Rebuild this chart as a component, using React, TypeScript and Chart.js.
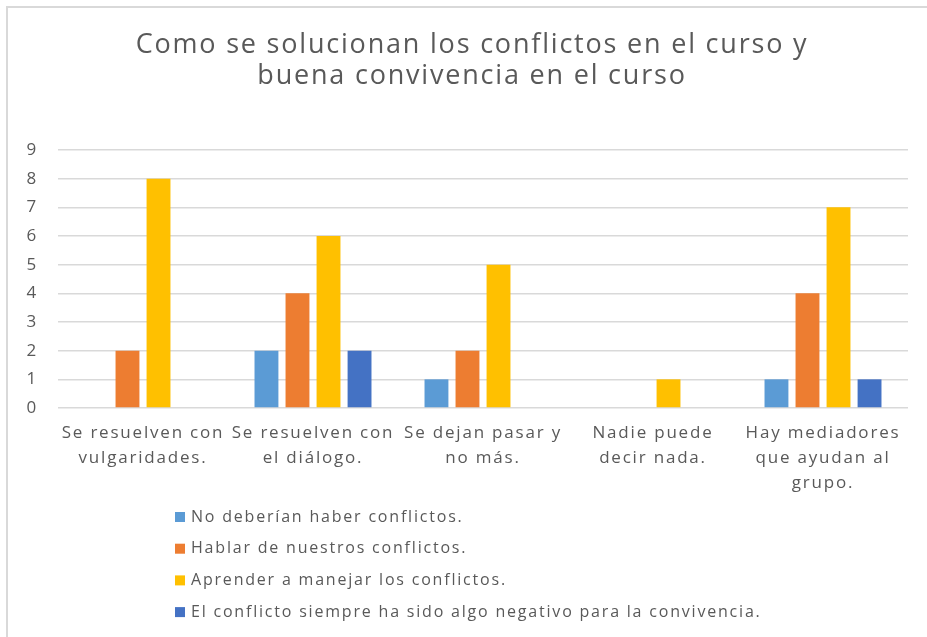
import React, { useEffect, useRef } from 'react';
import { Chart, registerables } from 'chart.js';

Chart.register(...registerables);

const titleLines = ['Como se solucionan los conflictos en el curso y', 'buena convivencia en el curso'];
const categories = [
  ['Se resuelven con', 'vulgaridades.'],
  ['Se resuelven con', 'el diálogo.'],
  ['Se dejan pasar y', 'no más.'],
  ['Nadie puede', 'decir nada.'],
  ['Hay mediadores', 'que ayudan al', 'grupo.'],
];
const seriesNames = [
  'No deberían haber conflictos.',
  'Hablar de nuestros conflictos.',
  'Aprender a manejar los conflictos.',
  'El conflicto siempre ha sido algo negativo para la convivencia.',
];
const noDeberian = [0, 2, 1, 0, 1];
const hablar = [2, 4, 2, 0, 4];
const aprender = [8, 6, 5, 1, 7];
const negativo = [0, 2, 0, 0, 1];
const seriesColors = ['#5B9BD5', '#ED7D31', '#FFC000', '#4472C4'];
const yMax = 9;

const FONT = "'Open Sans', sans-serif";
const TEXT = '#595959';
const SPACING = '1.8px';

const framePlugin = {
  id: 'frame',
  beforeUpdate(chart: any) {
    chart.ctx.letterSpacing = SPACING;
  },
  beforeLayout(chart: any) {
    chart.ctx.letterSpacing = SPACING;
  },
  afterLayout(chart: any) {
    // centre the title over the framed area like the original
    if (chart.titleBlock) chart.titleBlock.left = 36;
  },
  beforeDraw(chart: any) {
    const ctx = chart.ctx;
    ctx.letterSpacing = SPACING;
    ctx.save();
    ctx.fillStyle = '#ffffff';
    ctx.fillRect(0, 0, chart.width, chart.height);
    ctx.strokeStyle = '#d9d9d9';
    ctx.lineWidth = 2;
    ctx.beginPath();
    ctx.moveTo(7, chart.height);
    ctx.lineTo(7, 7);
    ctx.lineTo(chart.width, 7);
    ctx.stroke();
    ctx.restore();
  },
};

const listLegendPlugin = {
  id: 'listLegend',
  afterDraw(chart: any) {
    const ctx = chart.ctx;
    ctx.save();
    ctx.letterSpacing = SPACING;
    ctx.font = `16px ${FONT}`;
    ctx.textBaseline = 'middle';
    ctx.textAlign = 'left';
    chart.data.datasets.forEach((ds: any, i: number) => {
      const y = 517 + i * 31.7;
      ctx.fillStyle = ds.backgroundColor;
      ctx.fillRect(175, y - 5, 10, 10);
      ctx.fillStyle = TEXT;
      ctx.fillText(ds.label, 191, y);
    });
    ctx.restore();
  },
};

export default function App() {
  const ref = useRef<HTMLCanvasElement>(null);
  useEffect(() => {
    if (!ref.current) return;
    const values = [noDeberian, hablar, aprender, negativo];
    const chart = new Chart(ref.current, {
      type: 'bar',
      data: {
        labels: categories,
        datasets: values.map((v, i) => ({
          label: seriesNames[i],
          data: v,
          backgroundColor: seriesColors[i],
          borderWidth: 0,
          categoryPercentage: 0.73,
          barPercentage: 0.77,
        })),
      },
      options: {
        animation: false,
        responsive: false,
        maintainAspectRatio: false,
        layout: { padding: { top: 0, left: 0, right: 19, bottom: 144 } },
        plugins: {
          legend: { display: false },
          tooltip: { enabled: false },
          title: {
            display: true,
            text: titleLines,
            color: TEXT,
            font: { family: FONT, size: 27, weight: 'normal', lineHeight: 31 / 27 },
            padding: { top: 30, bottom: 58 },
          },
        },
        scales: {
          x: {
            grid: { display: false, drawTicks: false },
            border: { display: false },
            ticks: {
              color: TEXT,
              font: { family: FONT, size: 17, lineHeight: 25 / 17 },
              padding: 13,
              maxRotation: 0,
              autoSkip: false,
            },
            afterFit: (s: any) => { s.height = 85; },
          },
          y: {
            min: 0,
            max: yMax,
            grid: { color: '#d9d9d9', lineWidth: 1.5, drawTicks: false },
            border: { display: false },
            ticks: {
              stepSize: 1,
              color: TEXT,
              font: { family: FONT, size: 17 },
              padding: 20,
            },
            afterFit: (s: any) => { s.width = 58; },
          },
        },
      },
      plugins: [framePlugin, listLegendPlugin],
    });
    return () => chart.destroy();
  }, []);
  return (
    <div style={{ position: 'fixed', left: 0, top: 0, width: 927, height: 637 }}>
      <canvas ref={ref} width={927} height={637} style={{ display: 'block' }} />
    </div>
  );
}
